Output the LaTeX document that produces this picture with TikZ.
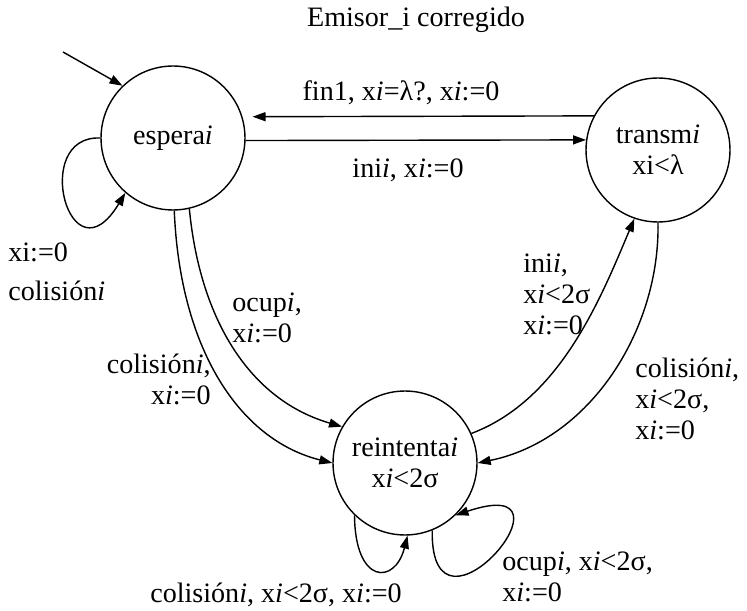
\documentclass[tikz,border=0pt]{standalone}
\usepackage{fontspec}
\setmainfont{Liberation Serif}
\usetikzlibrary{arrows.meta,positioning}
\tikzset{
  estado/.style={draw,circle,minimum size=2.88cm,inner sep=0pt,align=center,line width=0.8pt},
  trans/.style={-{Triangle[length=0.26cm,width=0.18cm]},line width=0.8pt},
  etiq/.style={inner sep=0pt,align=left},
}

\begin{document}
\begin{tikzpicture}[x=0.02cm,y=-0.02cm,font=\fontsize{16}{17.5}\selectfont]
    \useasboundingbox (0,0) rectangle (747,611);
    \node (titulo) at (416,20) {Emisor\_i corregido};
    % estados
    \node[estado] (espera) at (173,138) {espera\textit{i}};
    \node[estado] (transm) at (658,150) {transm\textit{i}\\xi<λ};
    \node[estado] (reint) at (405,463) {reintenta\textit{i}\\x\textit{i}<2σ};
    \coordinate (inicio) at (63,52);
    \draw[trans] (inicio) -- (espera.134);
    % espera <-> transm
    \draw[trans,shorten >=0.2cm] (transm.152) -- (espera.17);
    \node[etiq] (lfin) at (401,93) {fin1, x\textit{i}=λ?, x\textit{i}:=0};
    \draw[trans] (espera.-2) -- (transm.172);
    \node[etiq] (lini) at (408,170) {ini\textit{i}, x\textit{i}:=0};
    \draw[trans] (espera.180) .. controls (30,135) and (70,285) .. (espera.229);
    \node[etiq,anchor=north west] (lcol1) at (8,242) {xi:=0\\[0.18cm]colisión\textit{i}};
    % espera -> reintenta
    \draw[trans] (espera.271) .. controls (180,350) and (240,440) .. (reint.180);
    \draw[trans] (espera.283) .. controls (200,320) and (250,400) .. (reint.150);
    \node[etiq,anchor=north west] (locup1) at (232,293) {ocup\textit{i},\\x\textit{i}:=0};
    \node[etiq,align=right,anchor=north east] (lcol2) at (211,354) {colisión\textit{i},\\x\textit{i}:=0};
    % reintenta <-> transm
    \draw[trans] (reint.24) .. controls (560,400) and (600,300) .. (transm.251);
    \draw[trans] (transm.270) .. controls (660,330) and (590,440) .. (reint.0);
    \node[etiq,anchor=north west] (lini2) at (523,254) {ini\textit{i},\\x\textit{i}<2σ\\x\textit{i}:=0};
    \node[etiq,anchor=north west] (lcol3) at (635,358) {colisión\textit{i},\\x\textit{i}<2σ,\\x\textit{i}:=0};
    % bucles de reintenta
    \draw[trans] (reint.226) .. controls (355,585) and (395,585) .. (reint.272);
    \draw[trans] (reint.292) .. controls (430,660) and (590,470) .. (reint.314);
    \node[etiq] (lcol4) at (276,595) {colisión\textit{i}, x\textit{i}<2σ, x\textit{i}:=0};
    \node[etiq,anchor=north west] (locup2) at (502,552) {ocup\textit{i}, x\textit{i}<2σ,\\x\textit{i}:=0};
\end{tikzpicture}
\end{document}
